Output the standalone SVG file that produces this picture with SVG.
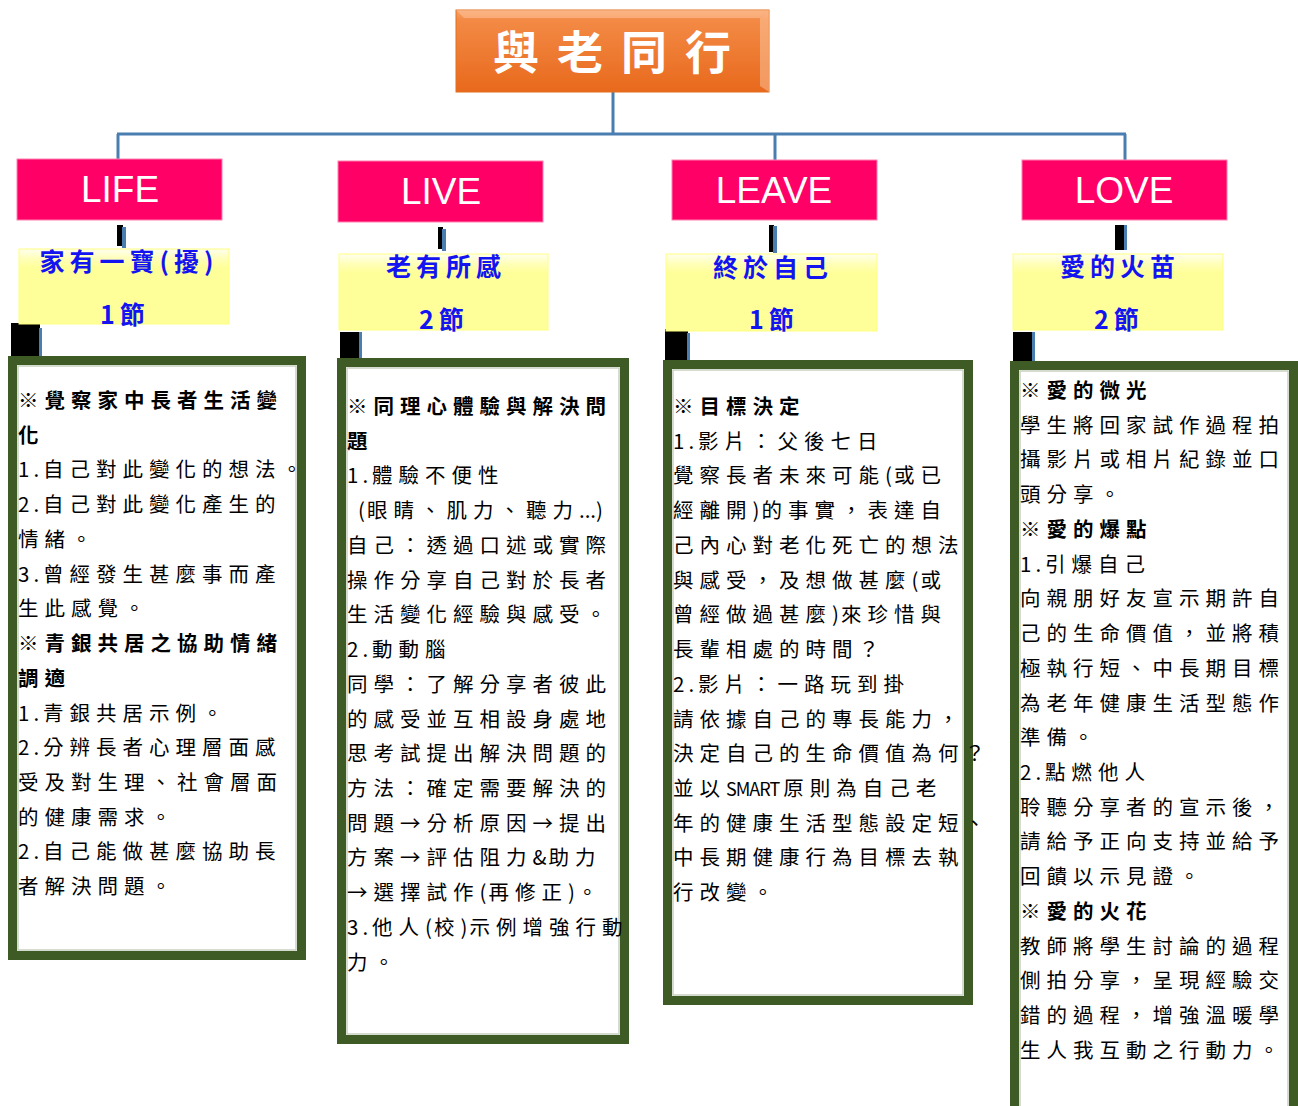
<svg xmlns="http://www.w3.org/2000/svg" width="1298" height="1106" viewBox="0 0 1298 1106">
<defs>
<linearGradient id="gOrange" x1="0" y1="0" x2="0" y2="1">
<stop offset="0" stop-color="#F7A06A"/>
<stop offset="0.12" stop-color="#F38A45"/>
<stop offset="1" stop-color="#E8691C"/>
</linearGradient>
<linearGradient id="gYellow" x1="0" y1="0" x2="0" y2="1">
<stop offset="0" stop-color="#FFFFF0"/>
<stop offset="0.13" stop-color="#FFFFB8"/>
<stop offset="0.25" stop-color="#FFFF99"/>
<stop offset="1" stop-color="#FFFF99"/>
</linearGradient>
</defs>
<style>
.conn{stroke:#4A7EB0;stroke-width:3;fill:none}
.blk{fill:#000}
.bl{fill:#4A7EB0}
.hdr{fill:#FF0066;stroke:#FF80B0;stroke-width:1}
.hdrT{font-family:"Liberation Sans","Noto Sans",sans-serif;font-size:37px;fill:#fff;text-anchor:middle}
.yel{fill:url(#gYellow);stroke:#FFFF80;stroke-width:1}
.yelT{font-family:"Noto Sans CJK TC",sans-serif;font-size:25px;font-weight:bold;fill:#1414F0;letter-spacing:5px;text-anchor:middle}
.box{fill:#fff;stroke:#3E5B25;stroke-width:9}
.inner{fill:none;stroke:#C8D0C0;stroke-width:1.5}
.body{font-family:"Noto Sans CJK TC",sans-serif;font-size:20.5px;fill:#000;letter-spacing:6px}
.b{font-weight:bold}
.n{letter-spacing:4px}
.p{letter-spacing:2px}
.z{letter-spacing:0px}
.sm{letter-spacing:-1px;font-size:18px}
</style>
<g id="connectors">
<path class="conn" d="M613 92 V134 M117 134 H1126 M118 134 V159 M775 134 V160 M1125 134 V160"/>
<rect class="blk" x="117" y="225" width="6" height="21"/><rect class="bl" x="122" y="227" width="4" height="21"/>
<rect class="blk" x="438" y="227" width="5" height="22"/><rect class="bl" x="442" y="229" width="4" height="22"/>
<rect class="blk" x="769" y="225" width="5" height="27"/><rect class="bl" x="773" y="226" width="4" height="27"/>
<rect class="blk" x="1115" y="225" width="10" height="25"/><rect class="bl" x="1124" y="225" width="3" height="25"/>
<rect class="blk" x="11" y="323" width="29" height="33"/><rect class="bl" x="39" y="328" width="3" height="28"/>
<rect class="blk" x="340" y="332" width="20" height="26"/><rect class="bl" x="359" y="332" width="3" height="26"/>
<rect class="blk" x="665" y="329" width="23" height="31"/><rect class="bl" x="687" y="333" width="3" height="27"/>
<rect class="blk" x="1013" y="332" width="20" height="29"/><rect class="bl" x="1032" y="332" width="3" height="29"/>
</g>
<g id="title">
<rect x="456" y="10" width="313" height="82" fill="url(#gOrange)" stroke="#E2701F" stroke-width="1"/>
<polygon points="456,10 769,10 760,18 464,18" fill="#FFC8A0" opacity="0.5"/>
<polygon points="769,10 769,92 760,86 760,18" fill="#FFD0B0" opacity="0.45"/>
<text x="621" y="69" font-family="Noto Sans CJK TC,sans-serif" font-size="46" font-weight="bold" fill="#fff" letter-spacing="18" text-anchor="middle">與老同行</text>
</g>
<g id="life">
<rect class="hdr" x="17" y="159" width="205" height="61"/>
<text class="hdrT" x="120" y="202">LIFE</text>
<rect class="yel" x="19" y="249" width="210" height="75"/>
<text class="yelT" x="129" y="271">家有一寶(擾)</text>
<text class="yelT" x="125" y="324">1節</text>
<rect class="box" x="12.5" y="360.5" width="289" height="595"/>
<rect class="inner" x="18" y="366" width="278" height="584"/>
<text class="body">
<tspan class="b" x="18" y="408">※覺察家中長者生活變</tspan>
<tspan class="b" x="18" y="442.7">化</tspan>
<tspan x="18" y="477.4"><tspan class="n">1.</tspan>自己對此變化的想法。</tspan>
<tspan x="18" y="512.2"><tspan class="n">2.</tspan>自己對此變化產生的</tspan>
<tspan x="18" y="546.9">情緒。</tspan>
<tspan x="18" y="581.6"><tspan class="n">3.</tspan>曾經發生甚麼事而產</tspan>
<tspan x="18" y="616.3">生此感覺。</tspan>
<tspan class="b" x="18" y="651">※青銀共居之協助情緒</tspan>
<tspan class="b" x="18" y="685.8">調適</tspan>
<tspan x="18" y="720.5"><tspan class="n">1.</tspan>青銀共居示例。</tspan>
<tspan x="18" y="755.2"><tspan class="n">2.</tspan>分辨長者心理層面感</tspan>
<tspan x="18" y="789.9">受及對生理、社會層面</tspan>
<tspan x="18" y="824.6">的健康需求。</tspan>
<tspan x="18" y="859.4"><tspan class="n">2.</tspan>自己能做甚麼協助長</tspan>
<tspan x="18" y="894.1">者解決問題。</tspan>
</text>
</g>
<g id="live">
<rect class="hdr" x="338" y="161" width="205" height="61"/>
<text class="hdrT" x="441" y="204">LIVE</text>
<rect class="yel" x="339" y="254" width="209" height="76"/>
<text class="yelT" x="446" y="276">老有所感</text>
<text class="yelT" x="444" y="329">2節</text>
<rect class="box" x="341.5" y="362.5" width="283" height="677"/>
<rect class="inner" x="347" y="368" width="272" height="666"/>
<text class="body">
<tspan class="b" x="347" y="414">※同理心體驗與解決問</tspan>
<tspan class="b" x="347" y="448.7">題</tspan>
<tspan x="347" y="483.4"><tspan class="n">1.</tspan>體驗不便性</tspan>
<tspan x="358" y="518.2"><tspan class="p">(</tspan>眼睛、肌力、聽力<tspan class="z">...)</tspan></tspan>
<tspan x="347" y="552.9">自己：透過口述或實際</tspan>
<tspan x="347" y="587.6">操作分享自己對於長者</tspan>
<tspan x="347" y="622.3">生活變化經驗與感受。</tspan>
<tspan x="347" y="657"><tspan class="n">2.</tspan>動動腦</tspan>
<tspan x="347" y="691.8">同學：了解分享者彼此</tspan>
<tspan x="347" y="726.5">的感受並互相設身處地</tspan>
<tspan x="347" y="761.2">思考試提出解決問題的</tspan>
<tspan x="347" y="795.9">方法：確定需要解決的</tspan>
<tspan x="347" y="830.6">問題→分析原因→提出</tspan>
<tspan x="347" y="865.4">方案→評估阻力<tspan class="p">&amp;</tspan>助力</tspan>
<tspan x="347" y="900.1">→選擇試作<tspan class="p">(</tspan>再修正<tspan class="p">)</tspan>。</tspan>
<tspan x="347" y="934.8"><tspan class="n">3.</tspan>他人<tspan class="p">(</tspan>校<tspan class="p">)</tspan>示例增強行動</tspan>
<tspan x="347" y="969.5">力。</tspan>
</text>
</g>
<g id="leave">
<rect class="hdr" x="672" y="160" width="205" height="60"/>
<text class="hdrT" x="774" y="203">LEAVE</text>
<rect class="yel" x="666" y="254" width="211" height="77"/>
<text class="yelT" x="773" y="277">終於自己</text>
<text class="yelT" x="774" y="329">1節</text>
<rect class="box" x="667.5" y="364.5" width="301" height="636"/>
<rect class="inner" x="673" y="370" width="290" height="625"/>
<text class="body">
<tspan class="b" x="673" y="414">※目標決定</tspan>
<tspan x="673" y="448.7"><tspan class="n">1.</tspan>影片：父後七日</tspan>
<tspan x="673" y="483.4">覺察長者未來可能<tspan class="p">(</tspan>或已</tspan>
<tspan x="673" y="518.2">經離開<tspan class="p">)</tspan>的事實，表達自</tspan>
<tspan x="673" y="552.9">己內心對老化死亡的想法</tspan>
<tspan x="673" y="587.6">與感受，及想做甚麼<tspan class="p">(</tspan>或</tspan>
<tspan x="673" y="622.3">曾經做過甚麼<tspan class="p">)</tspan>來珍惜與</tspan>
<tspan x="673" y="657">長輩相處的時間？</tspan>
<tspan x="673" y="691.8"><tspan class="n">2.</tspan>影片：一路玩到掛</tspan>
<tspan x="673" y="726.5">請依據自己的專長能力，</tspan>
<tspan x="673" y="761.2">決定自己的生命價值為何？</tspan>
<tspan x="673" y="795.9">並以<tspan class="sm">SMART</tspan><tspan dx="4">原則為自己老</tspan></tspan>
<tspan x="673" y="830.6">年的健康生活型態設定短、</tspan>
<tspan x="673" y="865.4">中長期健康行為目標去執</tspan>
<tspan x="673" y="900.1">行改變。</tspan>
</text>
</g>
<g id="love">
<rect class="hdr" x="1022" y="160" width="205" height="60"/>
<text class="hdrT" x="1124" y="203">LOVE</text>
<rect class="yel" x="1013" y="254" width="210" height="76"/>
<text class="yelT" x="1120" y="276">愛的火苗</text>
<text class="yelT" x="1119" y="329">2節</text>
<rect class="box" x="1014.5" y="365.5" width="279" height="745"/>
<rect class="inner" x="1020" y="371" width="268" height="740"/>
<text class="body">
<tspan class="b" x="1020" y="398">※愛的微光</tspan>
<tspan x="1020" y="432.7">學生將回家試作過程拍</tspan>
<tspan x="1020" y="467.4">攝影片或相片紀錄並口</tspan>
<tspan x="1020" y="502.2">頭分享。</tspan>
<tspan class="b" x="1020" y="536.9">※愛的爆點</tspan>
<tspan x="1020" y="571.6"><tspan class="n">1.</tspan>引爆自己</tspan>
<tspan x="1020" y="606.3">向親朋好友宣示期許自</tspan>
<tspan x="1020" y="641">己的生命價值，並將積</tspan>
<tspan x="1020" y="675.8">極執行短、中長期目標</tspan>
<tspan x="1020" y="710.5">為老年健康生活型態作</tspan>
<tspan x="1020" y="745.2">準備。</tspan>
<tspan x="1020" y="779.9"><tspan class="n">2.</tspan>點燃他人</tspan>
<tspan x="1020" y="814.6">聆聽分享者的宣示後，</tspan>
<tspan x="1020" y="849.4">請給予正向支持並給予</tspan>
<tspan x="1020" y="884.1">回饋以示見證。</tspan>
<tspan class="b" x="1020" y="918.8">※愛的火花</tspan>
<tspan x="1020" y="953.5">教師將學生討論的過程</tspan>
<tspan x="1020" y="988.2">側拍分享，呈現經驗交</tspan>
<tspan x="1020" y="1023">錯的過程，增強溫暖學</tspan>
<tspan x="1020" y="1057.7">生人我互動之行動力。</tspan>
</text>
</g>
</svg>
